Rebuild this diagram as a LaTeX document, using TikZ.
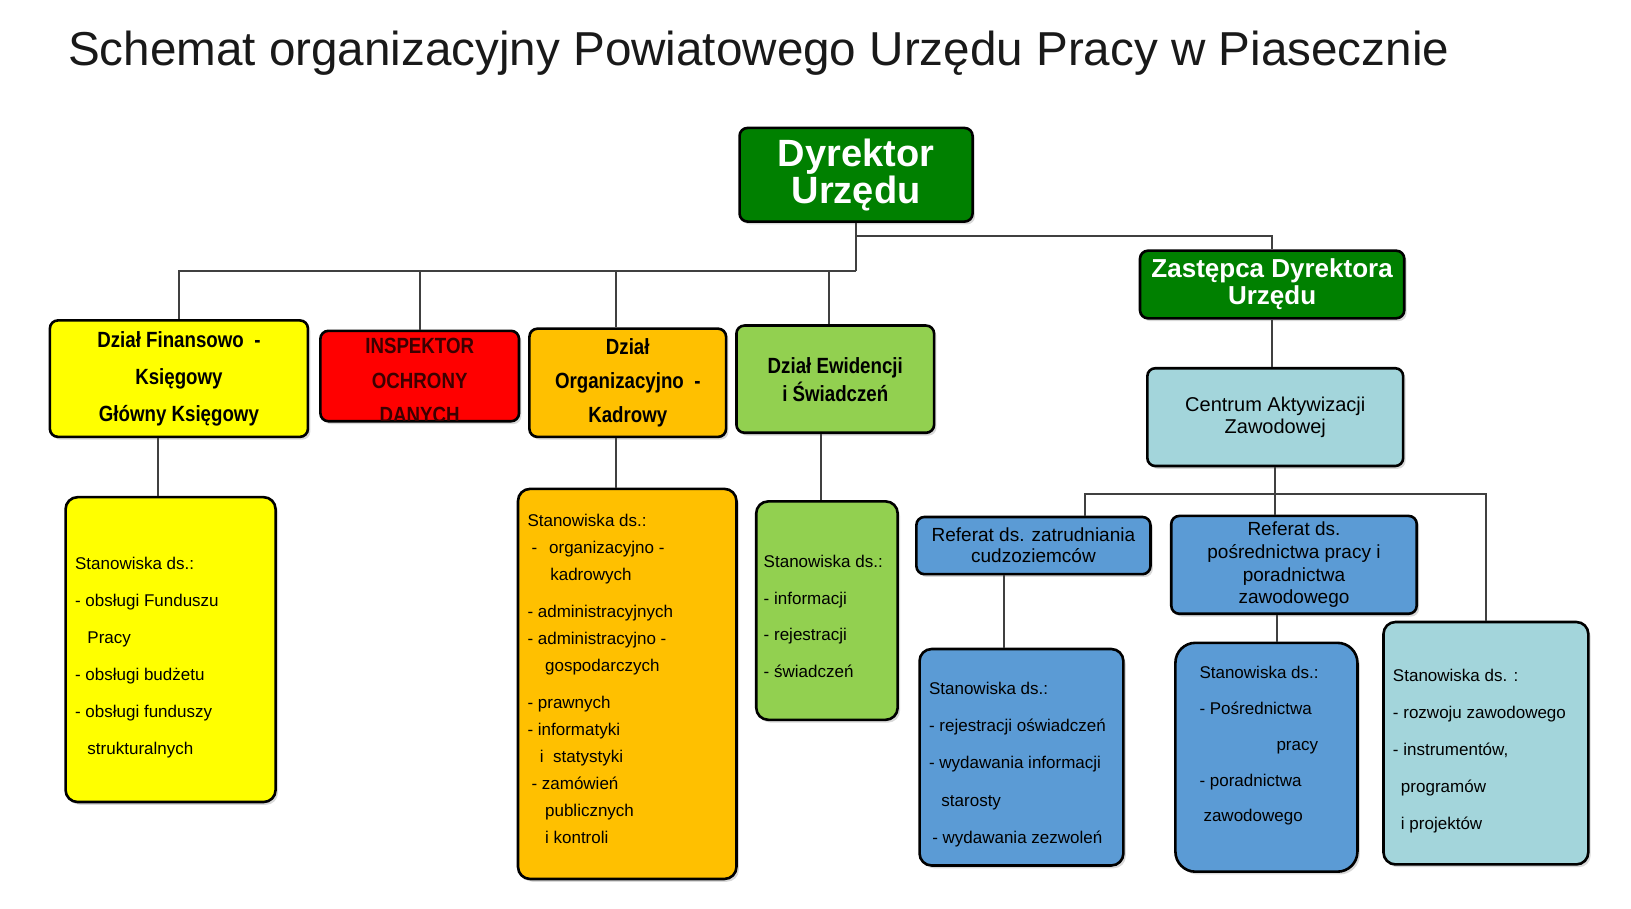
\documentclass[tikz,border=0pt]{standalone}
\usepackage{fontspec}
\setmainfont{Liberation Sans}
\newfontfamily\narrowsf[FakeStretch=0.85]{Liberation Sans}
\usetikzlibrary{positioning, shadows}
\definecolor{dyrgreen}{RGB}{0,128,0}
\definecolor{finyellow}{RGB}{255,255,0}
\definecolor{inspred}{RGB}{255,0,0}
\definecolor{orgorange}{RGB}{255,192,0}
\definecolor{ewigreen}{RGB}{146,208,80}
\definecolor{cazaqua}{RGB}{163,213,219}
\definecolor{refblue}{RGB}{91,155,213}

\begin{document}
\begin{tikzpicture}[x=0.52pt, y=-0.52pt,
    box/.style={draw=black, line width=1.3pt, rounded corners=4pt, align=center, inner sep=2pt,
        drop shadow={shadow xshift=1.2pt, shadow yshift=-1.4pt, opacity=0.3}},
    head/.style={box, fill=dyrgreen, text=white},
    dept/.style={box, font=\narrowsf\bfseries\fontsize{11}{18.5}\selectfont},
    unit/.style={box, font=\fontsize{9.5}{10.4}\selectfont},
    posts/.style={box, rounded corners=6pt},
    list/.style={anchor=north west, inner sep=0pt, align=left, font=\fontsize{8.5}{18.5}\selectfont},
    link/.style={draw=black!75, line width=1pt}
  ]
  \useasboundingbox (0,0) rectangle (1568,873);

  \node[anchor=base west, inner sep=0pt, text=black!90, font=\fontsize{23.8}{28}\selectfont] (title) at (65,63)
    {Schemat organizacyjny Powiatowego Urzędu Pracy w Piasecznie};

  % kierownictwo
  \node[head, minimum width=116.5pt, minimum height=46.8pt, font=\bfseries\fontsize{19}{17.5}\selectfont]
    (dyr) at (823,168) {Dyrektor\\Urzędu};
  \node[head, minimum width=132.1pt, minimum height=33.8pt, font=\bfseries\fontsize{13}{13.5}\selectfont]
    (zast) at (1223,273.5) {Zastępca Dyrektora\\Urzędu};

  % dzialy
  \node[dept, fill=finyellow, minimum width=129pt, minimum height=58.2pt] (fin) at (172,364)
    {Dział Finansowo \ -\\Księgowy\\Główny Księgowy};
  \node[dept, fill=inspred, minimum width=99.3pt, minimum height=45.2pt] (insp) at (403.5,361.5) {};
  \begin{scope}
    \clip ([yshift=0.8pt]insp.south west) rectangle (insp.north east);
    \node[align=center, inner sep=0pt, text={rgb,255:red,60;green,0;blue,0},
      font=\narrowsf\bfseries\fontsize{11}{17.2}\selectfont] (insptext) at (403.5,366)
      {INSPEKTOR\\OCHRONY\\DANYCH};
  \end{scope}
  \node[dept, fill=orgorange, minimum width=98.3pt, minimum height=54.1pt,
    font=\narrowsf\bfseries\fontsize{11}{17}\selectfont] (org) at (603.5,368)
    {Dział\\Organizacyjno \ -\\Kadrowy};
  \node[dept, fill=ewigreen, minimum width=98.8pt, minimum height=53.6pt,
    font=\narrowsf\bfseries\fontsize{11}{14}\selectfont] (ewi) at (803,364.5)
    {Dział Ewidencji\\i Świadczeń};

  % CAZ
  \node[unit, fill=cazaqua, minimum width=127.9pt, minimum height=48.9pt,
    font=\fontsize{10}{10.8}\selectfont] (cent) at (1226,401) {Centrum Aktywizacji\\Zawodowej};
  \node[unit, fill=refblue, minimum width=117pt, minimum height=28.6pt] (ref1) at (993.5,524.5)
    {Referat ds. zatrudniania\\cudzoziemców};
  \node[unit, fill=refblue, minimum width=122.7pt, minimum height=48.9pt,
    font=\fontsize{9.5}{11.3}\selectfont] (ref2) at (1244,543)
    {Referat ds.\\pośrednictwa pracy i\\poradnictwa\\zawodowego};

  % stanowiska
  \node[posts, fill=finyellow, minimum width=105pt, minimum height=152.4pt] (finst) at (164,624.5) {};
  \node[posts, fill=orgorange, minimum width=109.2pt, minimum height=195pt] (orgst) at (603,657.5) {};
  \node[posts, fill=ewigreen, minimum width=70.7pt, minimum height=109.2pt] (ewist) at (795,587) {};
  \node[posts, fill=refblue, minimum width=101.9pt, minimum height=108.2pt] (ref1st) at (982,728) {};
  \node[posts, fill=refblue, rounded corners=10pt, minimum width=91pt, minimum height=114.4pt] (ref2st) at (1217.5,728) {};
  \node[posts, fill=cazaqua, minimum width=102.4pt, minimum height=121.2pt] (cazst) at (1428.5,714.5) {};

  \node[list, below right=30.4pt and 5.2pt of finst.north west] (finlist)
    {Stanowiska ds.:\\- obsługi Funduszu\\\hspace*{6.2pt}Pracy\\- obsługi budżetu\\- obsługi funduszy\\\hspace*{6.2pt}strukturalnych};
  \node[list, font=\fontsize{8.5}{13.5}\selectfont, below right=13.2pt and 5.2pt of orgst.north west] (orglist)
    {Stanowiska ds.:\\
     \hspace*{2pt}-\hspace*{6pt}organizacyjno -\\
     \hspace*{11.4pt}kadrowych\\[5pt]
     - administracyjnych\\
     - administracyjno -\\
     \hspace*{8.8pt}gospodarczych\\[5pt]
     - prawnych\\
     - informatyki\\
     \hspace*{6.2pt}i\ \ statystyki\\
     \hspace*{2pt}- zamówień\\
     \hspace*{8.8pt}publicznych\\
     \hspace*{8.8pt}i kontroli};
  \node[list, font=\fontsize{8.5}{18.4}\selectfont, below right=27.2pt and 4.2pt of ewist.north west] (ewilist)
    {Stanowiska ds.:\\- informacji\\- rejestracji\\- świadczeń};
  \node[list, font=\fontsize{8.5}{18.7}\selectfont, below right=16.8pt and 5.2pt of ref1st.north west] (ref1list)
    {Stanowiska ds.:\\- rejestracji oświadczeń\\- wydawania informacji\\\hspace*{6.2pt}starosty\\\hspace*{1.6pt}- wydawania zezwoleń};
  \node[list, font=\fontsize{8.5}{17.9}\selectfont, below right=12.2pt and 12.5pt of ref2st.north west] (ref2list)
    {Stanowiska ds.:\\- Pośrednictwa\\\hspace*{38.5pt}pracy\\- poradnictwa\\\hspace*{2pt}zawodowego};
  \node[list, below right=24.1pt and 5.2pt of cazst.north west] (cazlist)
    {Stanowiska ds. :\\- rozwoju zawodowego\\- instrumentów,\\\hspace*{4pt}programów\\\hspace*{4pt}i projektów};

  % polaczenia
  \coordinate (bus) at (823,261);
  \coordinate (zbus) at (823,227);
  \coordinate (cbus) at (1226,475);
  \draw[link] (dyr.south) -- (bus);
  \draw[link] (bus) -| (fin.north);
  \draw[link] (insp.north) -- (insp.north |- bus);
  \draw[link] ([xshift=-6pt]org.north) -- ([xshift=-6pt]org.north |- bus);
  \draw[link] ([xshift=-3.1pt]ewi.north) -- ([xshift=-3.1pt]ewi.north |- bus);
  \draw[link] (zbus) -| (zast.north);
  \draw[link] (zast.south) -- (zast.south |- cent.north);
  \draw[link] (cent.south) -- (cbus);
  \draw[link] ([xshift=25.7pt]ref1.north) |- (cbus) -| (cazst.north);
  \draw[link] ([xshift=-9.4pt]ref2.north) -- ([xshift=-9.4pt]ref2.north |- cbus);

  \draw[link] ([xshift=-10.4pt]fin.south) -- ([xshift=-10.4pt]fin.south |- finst.north);
  \draw[link] ([xshift=-6pt]org.south) -- ([xshift=-6pt]org.south |- orgst.north);
  \draw[link] ([xshift=-7.3pt]ewi.south) -- ([xshift=-7.3pt]ewi.south |- ewist.north);
  \draw[link] ([xshift=-14.8pt]ref1.south) -- ([xshift=-14.8pt]ref1.south |- ref1st.north);
  \draw[link] ([xshift=-8.3pt]ref2.south) -- ([xshift=-8.3pt]ref2.south |- ref2st.north);
\end{tikzpicture}
\end{document}
